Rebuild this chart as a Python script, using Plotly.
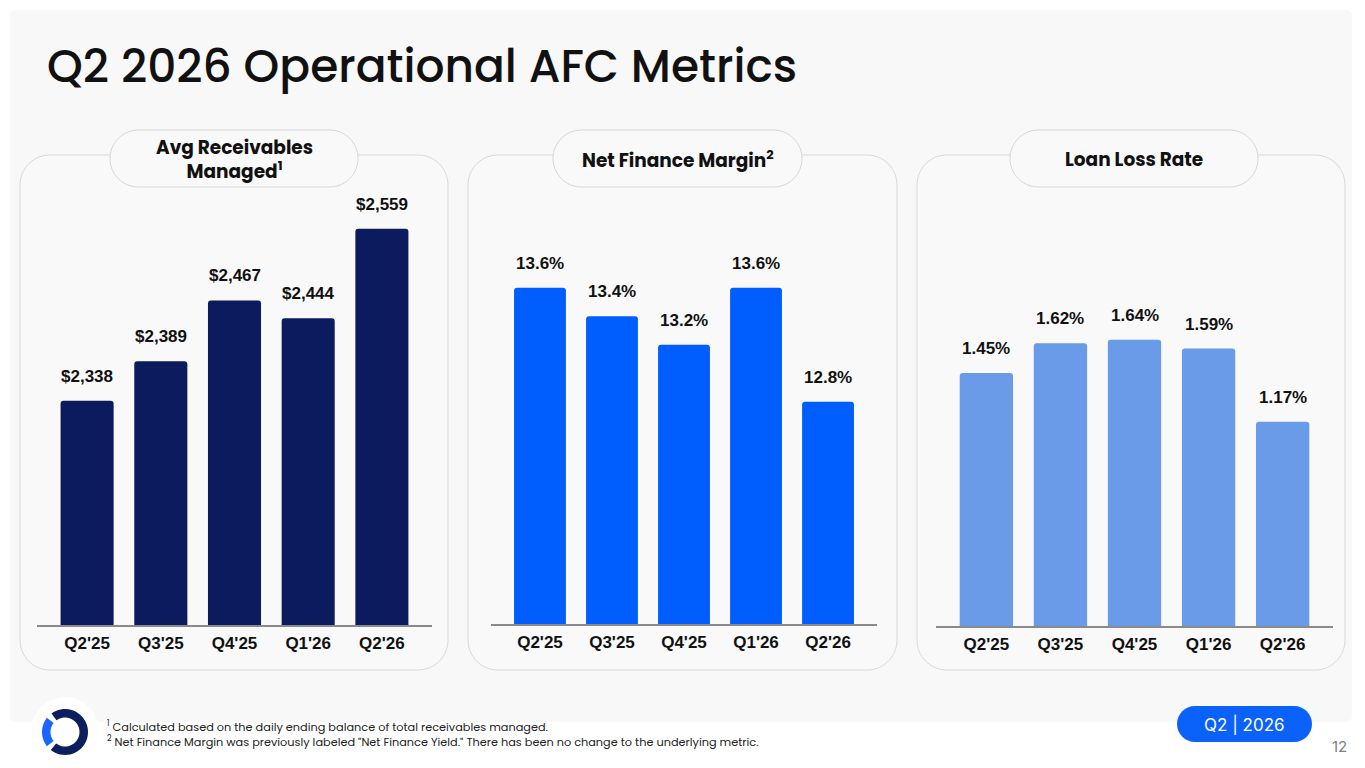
import math
import plotly.graph_objects as go

# the page puts the plot 8px in from the top-left, so the figure is 8px smaller
OFF = 8
W, H = 1365 - OFF, 768 - OFF

quarters = ["Q2'25", "Q3'25", "Q4'25", "Q1'26", "Q2'26"]
receivables = [2338, 2389, 2467, 2444, 2559]
finance_margin = [13.6, 13.4, 13.2, 13.6, 12.8]
loss_rate = [1.45, 1.62, 1.64, 1.59, 1.17]

title_text = "Q2 2026 Operational AFC Metrics"
panel_titles = ["Avg Receivables<br>Managed<sup>1</sup>", "Net Finance Margin<sup>2</sup>", "Loan Loss Rate"]
footnotes = [
    "<sup>1</sup> Calculated based on the daily ending balance of total receivables managed.",
    "<sup>2</sup> Net Finance Margin was previously labeled \"Net Finance Yield.\" There has been no change to the underlying metric.",
]

NAVY = "#0b1b5d"
BLUE = "#005eff"
LIGHT = "#6a9be8"
HEAD_FONT = "Poppins, Open Sans, sans-serif"
NUM_FONT = "Liberation Sans, Arial, sans-serif"


# screen pixel -> paper coords
def px(x):
    return (x - OFF) / W


def py(y):
    return 1 - (y - OFF) / H


def rounded_rect(x0, y0, x1, y1, r):
    # path in paper coords, corners as cubic curves
    k = 0.5523 * r
    pts = [
        "M%f,%f" % (px(x0 + r), py(y0)),
        "L%f,%f" % (px(x1 - r), py(y0)),
        "C%f,%f %f,%f %f,%f" % (px(x1 - r + k), py(y0), px(x1), py(y0 + r - k), px(x1), py(y0 + r)),
        "L%f,%f" % (px(x1), py(y1 - r)),
        "C%f,%f %f,%f %f,%f" % (px(x1), py(y1 - r + k), px(x1 - r + k), py(y1), px(x1 - r), py(y1)),
        "L%f,%f" % (px(x0 + r), py(y1)),
        "C%f,%f %f,%f %f,%f" % (px(x0 + r - k), py(y1), px(x0), py(y1 - r + k), px(x0), py(y1 - r)),
        "L%f,%f" % (px(x0), py(y0 + r)),
        "C%f,%f %f,%f %f,%f" % (px(x0), py(y0 + r - k), px(x0 + r - k), py(y0), px(x0 + r), py(y0)),
        "Z",
    ]
    return " ".join(pts)


def arc_band(cx, cy, r_out, r_in, a0, a1, n=40):
    # annular sector, angles in degrees (counter-clockwise, y up)
    outer = []
    inner = []
    for i in range(n + 1):
        a = math.radians(a0 + (a1 - a0) * i / n)
        outer.append((cx + r_out * math.cos(a), cy - r_out * math.sin(a)))
        inner.append((cx + r_in * math.cos(a), cy - r_in * math.sin(a)))
    pts = outer + inner[::-1]
    path = "M" + " L".join("%f,%f" % (px(x), py(y)) for x, y in pts) + " Z"
    return path


def circle_path(cx, cy, r):
    return rounded_rect(cx - r, cy - r, cx + r, cy + r, r)


fig = go.Figure()

# panel geometry: axis line start/end (px), baseline (px), value base, px per unit
panels = [
    dict(x0=37, x1=432, base_px=625, vmin=2050, scale=0.7783, vals=receivables, color=NAVY,
         fmt=lambda v: "${:,.0f}".format(v)),
    dict(x0=491, x1=877, base_px=624, vmin=11.24, scale=142.5, vals=finance_margin, color=BLUE,
         fmt=lambda v: "{:.1f}%".format(v)),
    dict(x0=936, x1=1333, base_px=626, vmin=0, scale=174.5, vals=loss_rate, color=LIGHT,
         fmt=lambda v: "{:.2f}%".format(v)),
]
TOP_PX = 190

annotations = []
for i, p in enumerate(panels):
    n = "" if i == 0 else str(i + 1)
    fig.add_trace(go.Bar(
        x=quarters, y=p["vals"], marker_color=p["color"], marker_line_width=0,
        marker_cornerradius=3, xaxis="x" + n, yaxis="y" + n, hoverinfo="skip",
    ))
    fig.update_layout(**{
        "xaxis" + n: dict(
            domain=[px(p["x0"]), px(p["x1"])], anchor="y" + n, range=[-0.68, 4.68],
            showline=True, linecolor="#8a8a8a", linewidth=1.5, showgrid=False, zeroline=False,
            ticks="outside", ticklen=2, tickcolor="rgba(0,0,0,0)",
            tickfont=dict(family=NUM_FONT, size=17, color="#111111", weight="bold"),
            fixedrange=True,
        ),
        "yaxis" + n: dict(
            domain=[py(p["base_px"]), py(TOP_PX)], anchor="x" + n,
            range=[p["vmin"], p["vmin"] + (p["base_px"] - TOP_PX) / p["scale"]],
            visible=False, fixedrange=True,
        ),
    })
    for q, v in zip(quarters, p["vals"]):
        annotations.append(dict(
            x=q, y=v, xref="x" + n, yref="y" + n, text=p["fmt"](v), showarrow=False,
            yanchor="bottom", yshift=13,
            font=dict(family=NUM_FONT, size=17, color="#111111", weight="bold"),
        ))

shapes = []
# big light backdrop
shapes.append(dict(type="path", path=rounded_rect(10, 10, 1352, 722, 6), xref="paper", yref="paper",
                   fillcolor="#f8f8f8", line_width=0, layer="below"))
# panels
panel_boxes = [(20, 155, 448, 670), (468, 155, 897, 670), (917, 155, 1345, 670)]
for b in panel_boxes:
    shapes.append(dict(type="path", path=rounded_rect(b[0], b[1], b[2], b[3], 30), xref="paper", yref="paper",
                       fillcolor="#f9f9f9", line=dict(color="#d9d9d9", width=1), layer="below"))
# header pills
pills = [(110, 130, 358, 187), (553, 130, 802, 187), (1010, 130, 1258, 187)]
for b in pills:
    shapes.append(dict(type="path", path=rounded_rect(b[0], b[1], b[2], b[3], 28.5), xref="paper", yref="paper",
                       fillcolor="#f9f9f9", line=dict(color="#d6d6d6", width=1), layer="below"))
for b, t in zip(pills, panel_titles):
    annotations.append(dict(
        x=px((b[0] + b[2]) / 2), y=py((b[1] + b[3]) / 2 + 0.5), xref="paper", yref="paper", text=t,
        showarrow=False, xanchor="center", yanchor="middle",
        font=dict(family=HEAD_FONT, size=18.5, color="#111111", weight="bold"),
    ))

# logo
shapes.append(dict(type="path", path=circle_path(65, 731, 34), xref="paper", yref="paper",
                   fillcolor="#ffffff", line_width=0, layer="below"))
shapes.append(dict(type="path", path=arc_band(65, 732, 23, 14.5, -128, 126), xref="paper", yref="paper",
                   fillcolor="#0b1f5e", line_width=0, layer="above"))
shapes.append(dict(type="path", path=arc_band(65, 732, 23, 14.5, 142, 218), xref="paper", yref="paper",
                   fillcolor="#1a66ff", line_width=0, layer="above"))

# Q2 | 2026 badge
shapes.append(dict(type="path", path=rounded_rect(1177, 706, 1312, 742, 18), xref="paper", yref="paper",
                   fillcolor="#0a62fb", line_width=0, layer="above"))
annotations.append(dict(x=px(1244.5), y=py(724), xref="paper", yref="paper", text="Q2 | 2026",
                        showarrow=False, xanchor="center", yanchor="middle",
                        font=dict(family="Inter, sans-serif", size=17, color="#ffffff")))
annotations.append(dict(x=px(1349), y=py(746), xref="paper", yref="paper", text="12",
                        showarrow=False, xanchor="right", yanchor="middle",
                        font=dict(family="Inter, sans-serif", size=15, color="#808080")))

# title
annotations.append(dict(x=px(45), y=py(66), xref="paper", yref="paper", text=title_text,
                        showarrow=False, xanchor="left", yanchor="middle",
                        font=dict(family=HEAD_FONT, size=45.5, color="#111111", weight=500)))

# footnotes
for j, t in enumerate(footnotes):
    annotations.append(dict(x=px(105), y=py(726 + 15 * j), xref="paper", yref="paper", text=t,
                            showarrow=False, xanchor="left", yanchor="middle",
                            font=dict(family=HEAD_FONT, size=11.3, color="#222222")))

fig.update_layout(
    width=W, height=H, margin=dict(l=0, r=0, t=0, b=0),
    paper_bgcolor="#ffffff", plot_bgcolor="rgba(0,0,0,0)",
    showlegend=False, bargap=0.28,
    shapes=shapes, annotations=annotations,
)

fig.write_html("out.html", config={"displayModeBar": False})
